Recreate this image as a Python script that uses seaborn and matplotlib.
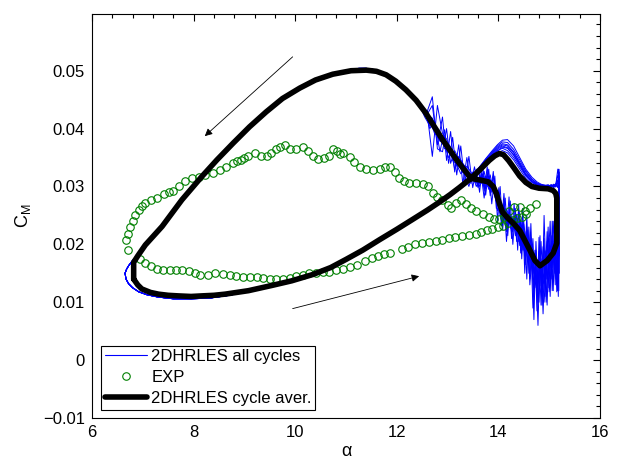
import matplotlib
matplotlib.use("Agg")
import matplotlib.pyplot as plt
import pandas as pd
import seaborn as sns
from matplotlib.lines import Line2D
from matplotlib.ticker import MultipleLocator

# ---------------- data ----------------
XTICKS = [6, 8, 10, 12, 14, 16]
XTICK_LABELS = ["6", "8", "10", "12", "14", "16"]
YTICKS = [-0.01, 0.0, 0.01, 0.02, 0.03, 0.04, 0.05]
YTICK_LABELS = ["\u22120.01", "0", "0.01", "0.02", "0.03", "0.04", "0.05"]
LEGEND_LABELS = ["2DHRLES all cycles", "EXP", "2DHRLES cycle aver."]

# blue cycles: shared attached upstroke
UP_A = [6.65, 6.67, 6.72, 6.80, 6.92, 7.08, 7.30, 7.60, 7.95, 8.30, 8.70, 9.10,
        9.50, 9.90, 10.30, 10.70, 11.10, 11.50, 11.90, 12.30, 12.70, 13.00, 13.25, 13.45]
UP_CM = [0.0150, 0.0140, 0.0132, 0.0125, 0.0118, 0.0113, 0.0109, 0.0106, 0.0106, 0.0107,
         0.0112, 0.0119, 0.0128, 0.0137, 0.0147, 0.0161, 0.0178, 0.0199, 0.0221, 0.0243,
         0.0265, 0.0283, 0.0299, 0.0313]

# per-cycle upstroke near moment peak
PEAK_A = [13.60, 13.75, 13.88, 13.98, 14.08, 14.18, 14.30, 14.42, 14.54, 14.66,
          14.76, 14.84, 14.92, 14.98, 15.04, 15.09, 15.13, 15.17, 15.20]
PEAK_CM = [
    [0.0327, 0.0342, 0.0354, 0.0362, 0.0366, 0.0362, 0.0350, 0.0334, 0.0318, 0.0307, 0.0302, 0.0301, 0.0300, 0.0301, 0.0299, 0.0302, 0.0300, 0.0310, 0.0305],
    [0.0328, 0.0345, 0.0358, 0.0368, 0.0374, 0.0372, 0.0360, 0.0342, 0.0325, 0.0312, 0.0305, 0.0303, 0.0302, 0.0300, 0.0303, 0.0300, 0.0304, 0.0298, 0.0315],
    [0.0325, 0.0338, 0.0350, 0.0358, 0.0362, 0.0358, 0.0346, 0.0330, 0.0314, 0.0304, 0.0300, 0.0301, 0.0299, 0.0300, 0.0302, 0.0299, 0.0303, 0.0320, 0.0300],
    [0.0330, 0.0348, 0.0362, 0.0372, 0.0380, 0.0381, 0.0370, 0.0350, 0.0330, 0.0316, 0.0308, 0.0304, 0.0302, 0.0303, 0.0300, 0.0304, 0.0301, 0.0306, 0.0312],
    [0.0326, 0.0340, 0.0353, 0.0361, 0.0368, 0.0366, 0.0355, 0.0338, 0.0320, 0.0309, 0.0303, 0.0302, 0.0301, 0.0299, 0.0303, 0.0301, 0.0305, 0.0299, 0.0325],
    [0.0329, 0.0344, 0.0357, 0.0366, 0.0372, 0.0370, 0.0358, 0.0340, 0.0322, 0.0310, 0.0304, 0.0302, 0.0300, 0.0302, 0.0300, 0.0303, 0.0299, 0.0312, 0.0302],
    [0.0327, 0.0341, 0.0355, 0.0364, 0.0370, 0.0367, 0.0354, 0.0337, 0.0320, 0.0308, 0.0303, 0.0301, 0.0302, 0.0300, 0.0301, 0.0298, 0.0302, 0.0330, 0.0308],
    [0.0331, 0.0347, 0.0360, 0.0370, 0.0377, 0.0376, 0.0364, 0.0346, 0.0327, 0.0313, 0.0306, 0.0303, 0.0301, 0.0302, 0.0300, 0.0302, 0.0300, 0.0305, 0.0318],
]

# per-cycle stalled downstroke (two alpha sample grids)
STALL_A1 = [15.20, 15.18, 15.15, 15.12, 15.08, 15.04, 15.00, 14.96, 14.92, 14.88, 14.84, 14.80,
            14.76, 14.72, 14.68, 14.64, 14.60, 14.56, 14.52, 14.48, 14.44, 14.40, 14.36, 14.31,
            14.26, 14.21, 14.16, 14.11, 14.06, 14.01, 13.96, 13.90, 13.84, 13.78, 13.72, 13.66,
            13.60, 13.53, 13.46, 13.38, 13.30, 13.22, 13.14, 13.06, 12.98, 12.90, 12.80, 12.70, 12.60]
STALL_A2 = [15.19, 15.165, 15.135, 15.10, 15.06, 15.02, 14.98, 14.94, 14.90, 14.86, 14.82, 14.78,
            14.74, 14.70, 14.66, 14.62, 14.58, 14.54, 14.50, 14.46, 14.42, 14.38, 14.335, 14.285,
            14.235, 14.185, 14.135, 14.085, 14.035, 13.985, 13.93, 13.87, 13.81, 13.75, 13.69, 13.63,
            13.565, 13.495, 13.42, 13.34, 13.26, 13.18, 13.10, 13.02, 12.94, 12.85, 12.75, 12.65, 12.55]
STALL_CM = [
    [0.0150, 0.0228, 0.0142, 0.0236, 0.0120, 0.0215, 0.0158, 0.0205, 0.0110, 0.0196, 0.0128, 0.0212, 0.0085, 0.0190, 0.0140, 0.0236, 0.0150, 0.0250, 0.0172, 0.0262, 0.0190, 0.0268, 0.0205, 0.0270, 0.0210, 0.0282, 0.0222, 0.0288, 0.0232, 0.0298, 0.0262, 0.0326, 0.0284, 0.0334, 0.0292, 0.0336, 0.0300, 0.0334, 0.0305, 0.0350, 0.0305, 0.0372, 0.0325, 0.0395, 0.0345, 0.0420, 0.0372, 0.0440, 0.0425],
    [0.0300, 0.0120, 0.0260, 0.0150, 0.0240, 0.0110, 0.0230, 0.0140, 0.0250, 0.0095, 0.0215, 0.0120, 0.0205, 0.0070, 0.0180, 0.0130, 0.0225, 0.0165, 0.0240, 0.0175, 0.0255, 0.0190, 0.0262, 0.0200, 0.0275, 0.0215, 0.0280, 0.0225, 0.0300, 0.0240, 0.0318, 0.0270, 0.0330, 0.0285, 0.0338, 0.0290, 0.0330, 0.0298, 0.0352, 0.0305, 0.0370, 0.0320, 0.0385, 0.0340, 0.0398, 0.0360, 0.0412, 0.0400, 0.0432],
    [0.0200, 0.0160, 0.0250, 0.0130, 0.0205, 0.0150, 0.0118, 0.0222, 0.0135, 0.0178, 0.0095, 0.0188, 0.0120, 0.0160, 0.0090, 0.0200, 0.0172, 0.0225, 0.0150, 0.0240, 0.0185, 0.0258, 0.0210, 0.0245, 0.0220, 0.0262, 0.0205, 0.0275, 0.0240, 0.0290, 0.0275, 0.0318, 0.0290, 0.0325, 0.0280, 0.0322, 0.0298, 0.0322, 0.0310, 0.0330, 0.0340, 0.0352, 0.0330, 0.0366, 0.0382, 0.0392, 0.0440, 0.0352, 0.0425],
    [0.0120, 0.0260, 0.0175, 0.0215, 0.0120, 0.0240, 0.0165, 0.0100, 0.0210, 0.0150, 0.0185, 0.0060, 0.0160, 0.0110, 0.0195, 0.0140, 0.0212, 0.0180, 0.0200, 0.0232, 0.0198, 0.0245, 0.0228, 0.0240, 0.0252, 0.0228, 0.0262, 0.0240, 0.0272, 0.0258, 0.0300, 0.0290, 0.0318, 0.0296, 0.0322, 0.0305, 0.0318, 0.0325, 0.0300, 0.0318, 0.0345, 0.0335, 0.0360, 0.0350, 0.0372, 0.0388, 0.0390, 0.0415, 0.0425],
    [0.0260, 0.0110, 0.0215, 0.0175, 0.0240, 0.0140, 0.0210, 0.0095, 0.0188, 0.0132, 0.0205, 0.0100, 0.0150, 0.0125, 0.0210, 0.0160, 0.0230, 0.0140, 0.0222, 0.0190, 0.0240, 0.0205, 0.0252, 0.0225, 0.0238, 0.0255, 0.0232, 0.0265, 0.0245, 0.0280, 0.0295, 0.0288, 0.0320, 0.0300, 0.0326, 0.0305, 0.0328, 0.0312, 0.0325, 0.0335, 0.0325, 0.0348, 0.0362, 0.0340, 0.0400, 0.0360, 0.0365, 0.0455, 0.0430],
    [0.0330, 0.0180, 0.0140, 0.0220, 0.0160, 0.0195, 0.0125, 0.0190, 0.0145, 0.0110, 0.0172, 0.0140, 0.0190, 0.0130, 0.0165, 0.0205, 0.0170, 0.0210, 0.0235, 0.0195, 0.0225, 0.0218, 0.0248, 0.0222, 0.0230, 0.0250, 0.0240, 0.0262, 0.0255, 0.0268, 0.0282, 0.0310, 0.0298, 0.0318, 0.0305, 0.0312, 0.0300, 0.0320, 0.0315, 0.0328, 0.0322, 0.0338, 0.0345, 0.0372, 0.0365, 0.0392, 0.0400, 0.0405, 0.0420],
    [0.0180, 0.0215, 0.0118, 0.0198, 0.0200, 0.0160, 0.0190, 0.0140, 0.0175, 0.0080, 0.0175, 0.0145, 0.0110, 0.0185, 0.0155, 0.0212, 0.0185, 0.0230, 0.0180, 0.0215, 0.0242, 0.0210, 0.0235, 0.0240, 0.0225, 0.0250, 0.0260, 0.0240, 0.0270, 0.0262, 0.0292, 0.0296, 0.0312, 0.0318, 0.0300, 0.0318, 0.0305, 0.0308, 0.0322, 0.0318, 0.0338, 0.0336, 0.0348, 0.0358, 0.0368, 0.0385, 0.0392, 0.0418, 0.0424],
    [0.0240, 0.0195, 0.0225, 0.0165, 0.0205, 0.0130, 0.0182, 0.0155, 0.0100, 0.0165, 0.0140, 0.0100, 0.0175, 0.0150, 0.0200, 0.0175, 0.0198, 0.0215, 0.0190, 0.0225, 0.0230, 0.0235, 0.0215, 0.0245, 0.0248, 0.0232, 0.0252, 0.0258, 0.0248, 0.0282, 0.0285, 0.0305, 0.0295, 0.0315, 0.0318, 0.0300, 0.0316, 0.0318, 0.0322, 0.0325, 0.0335, 0.0345, 0.0355, 0.0365, 0.0375, 0.0378, 0.0398, 0.0408, 0.0426],
]

# blue cycles: shared attached downstroke
DOWN_A = [12.45, 12.30, 12.15, 12.00, 11.85, 11.70, 11.55, 11.40, 11.25, 11.10, 10.90, 10.70,
          10.45, 10.20, 9.90, 9.60, 9.30, 9.00, 8.70, 8.40, 8.10, 7.80, 7.50, 7.25, 7.05,
          6.95, 6.85, 6.78, 6.72, 6.68]
DOWN_CM = [0.0440, 0.0455, 0.0469, 0.0480, 0.0490, 0.0497, 0.0502, 0.0504, 0.0504, 0.0501,
           0.0497, 0.0492, 0.0484, 0.0474, 0.0458, 0.0441, 0.0419, 0.0394, 0.0369, 0.0342,
           0.0313, 0.0281, 0.0246, 0.0219, 0.0198, 0.0188, 0.0177, 0.0170, 0.0163, 0.0157]

# experiment: lower branch (increasing alpha) then upper branch (decreasing alpha)
EXP_A = [6.70, 6.95, 7.05, 7.17, 7.28, 7.40, 7.53, 7.65, 7.78, 7.90, 8.02, 8.13, 8.28, 8.42,
         8.57, 8.71, 8.84, 8.98, 9.11, 9.24, 9.37, 9.50, 9.63, 9.76, 9.89, 10.02, 10.15, 10.27,
         10.40, 10.54, 10.67, 10.80, 10.95, 11.08, 11.22, 11.37, 11.52, 11.64, 11.75, 11.87,
         12.10, 12.23, 12.35, 12.49, 12.63, 12.77, 12.90, 13.03, 13.15, 13.28, 13.42, 13.55,
         13.66, 13.77, 13.88, 13.99, 14.09, 14.19, 14.28, 14.37, 14.46, 14.55,
         14.74, 14.62, 14.52, 14.42, 14.30, 14.20, 14.12, 14.02, 13.92, 13.82, 13.69, 13.56,
         13.46, 13.36, 13.26, 13.16, 13.07, 13.00, 12.90, 12.80, 12.71, 12.61, 12.51, 12.38,
         12.25, 12.15, 12.05, 11.96, 11.86, 11.76, 11.66, 11.53, 11.40, 11.27, 11.15, 11.07,
         10.95, 10.88, 10.82, 10.75, 10.66, 10.57, 10.45, 10.35, 10.25, 10.15, 10.02, 9.89,
         9.79, 9.70, 9.62, 9.53, 9.44, 9.33, 9.20, 9.08, 9.00, 8.93, 8.86, 8.77, 8.64, 8.51,
         8.38, 8.23, 8.10, 7.96, 7.83, 7.72, 7.60, 7.51, 7.41, 7.28, 7.16, 7.05, 6.98, 6.92,
         6.85, 6.80, 6.75, 6.71, 6.67]
EXP_CM = [0.0190, 0.0174, 0.0168, 0.0162, 0.0158, 0.0156, 0.0155, 0.0155, 0.0155, 0.0154,
          0.0150, 0.0147, 0.0147, 0.0150, 0.0149, 0.0147, 0.0146, 0.0144, 0.0143, 0.0143,
          0.0142, 0.0141, 0.0141, 0.0141, 0.0142, 0.0145, 0.0147, 0.0150, 0.0151, 0.0152,
          0.0153, 0.0156, 0.0158, 0.0161, 0.0165, 0.0171, 0.0176, 0.0180, 0.0183, 0.0185,
          0.0192, 0.0196, 0.0200, 0.0202, 0.0204, 0.0206, 0.0208, 0.0211, 0.0213, 0.0215,
          0.0216, 0.0218, 0.0222, 0.0225, 0.0227, 0.0230, 0.0232, 0.0237, 0.0242, 0.0245,
          0.0248, 0.0252,
          0.0270, 0.0262, 0.0257, 0.0264, 0.0265, 0.0258, 0.0247, 0.0243, 0.0243, 0.0247,
          0.0252, 0.0257, 0.0262, 0.0269, 0.0277, 0.0271, 0.0262, 0.0268, 0.0276, 0.0282,
          0.0289, 0.0300, 0.0305, 0.0306, 0.0306, 0.0309, 0.0315, 0.0325, 0.0334, 0.0334,
          0.0330, 0.0328, 0.0330, 0.0334, 0.0342, 0.0351, 0.0358, 0.0356, 0.0362, 0.0364,
          0.0353, 0.0349, 0.0347, 0.0352, 0.0361, 0.0368, 0.0364, 0.0364, 0.0372, 0.0369,
          0.0365, 0.0358, 0.0352, 0.0353, 0.0357, 0.0352, 0.0349, 0.0346, 0.0344, 0.0340,
          0.0334, 0.0329, 0.0324, 0.0320, 0.0317, 0.0314, 0.0309, 0.0301, 0.0292, 0.0290,
          0.0287, 0.0280, 0.0276, 0.0272, 0.0267, 0.0260, 0.0251, 0.0241, 0.0230, 0.0218,
          0.0207]

# cycle-averaged curve
BLACK_A = [6.82, 6.90, 6.98, 7.15, 7.31, 7.50, 7.70, 7.95, 8.16, 8.40, 8.62, 9.08, 9.54, 9.93,
           10.35, 10.70, 11.00, 11.33, 11.66, 12.00, 12.31, 12.60, 12.84, 13.05, 13.23, 13.46,
           13.65, 13.82, 13.93, 14.02, 14.10, 14.20, 14.30, 14.42, 14.54, 14.66, 14.80, 14.98,
           15.08, 15.13, 15.15, 15.15, 15.08, 14.96, 14.82, 14.72, 14.62, 14.52, 14.42, 14.30,
           14.18, 14.08, 14.02, 13.96, 13.90, 13.80, 13.65, 13.46, 13.30, 13.17, 12.90, 12.57,
           12.38, 12.18, 11.98, 11.79, 11.60, 11.40, 11.10, 10.74, 10.40, 10.09, 9.75, 9.43,
           9.10, 8.78, 8.46, 8.16, 7.77, 7.38, 7.05, 6.90, 6.82, 6.82]
BLACK_CM = [0.0140, 0.0130, 0.0123, 0.0117, 0.0114, 0.0112, 0.0111, 0.0110, 0.0111, 0.0112,
            0.0114, 0.0120, 0.0129, 0.0137, 0.0148, 0.0160, 0.0174, 0.0190, 0.0208, 0.0226,
            0.0243, 0.0259, 0.0273, 0.0286, 0.0298, 0.0314, 0.0330, 0.0345, 0.0353, 0.0357,
            0.0355, 0.0345, 0.0333, 0.0318, 0.0307, 0.0300, 0.0297, 0.0296, 0.0293, 0.0288,
            0.0280, 0.0202, 0.0185, 0.0172, 0.0163, 0.0172, 0.0190, 0.0207, 0.0224, 0.0236,
            0.0246, 0.0256, 0.0271, 0.0288, 0.0300, 0.0308, 0.0311, 0.0314, 0.0332, 0.0347,
            0.0381, 0.0427, 0.0449, 0.0467, 0.0482, 0.0493, 0.0499, 0.0501, 0.0500, 0.0494,
            0.0484, 0.0470, 0.0452, 0.0429, 0.0403, 0.0375, 0.0346, 0.0317, 0.0277, 0.0231,
            0.0199, 0.0180, 0.0169, 0.0140]

# arrows (tail, head) in data units
ARROWS = [((9.95, 0.0524), (8.22, 0.0387)), ((9.95, 0.0089), (12.44, 0.0145))]

# ---------------- assemble ----------------
rows = []
for i in range(len(PEAK_CM)):
    grid = STALL_A1 if i % 2 == 0 else STALL_A2
    a = UP_A + PEAK_A + grid + DOWN_A + [UP_A[0]]
    c = UP_CM + PEAK_CM[i] + STALL_CM[i] + DOWN_CM + [UP_CM[0]]
    for k, (x, y) in enumerate(zip(a, c)):
        rows.append({"alpha": x, "cm": y, "cycle": i, "order": k})
blue = pd.DataFrame(rows)
exp_df = pd.DataFrame({"alpha": EXP_A, "cm": EXP_CM})
avg_df = pd.DataFrame({"alpha": BLACK_A, "cm": BLACK_CM})

sns.set_theme(style="white")
plt.rcParams["font.family"] = ["Liberation Sans", "DejaVu Sans"]
plt.rcParams["mathtext.default"] = "regular"

fig = plt.figure(figsize=(6.23, 4.59), dpi=100)
ax = fig.add_axes([0.1477, 0.0893, 0.8153, 0.8802])

BLUE = "#0000ff"
GREEN = "#008000"
BLACK = "#000000"

sns.lineplot(data=blue, x="alpha", y="cm", units="cycle", estimator=None, sort=False,
             color=BLUE, lw=0.7, ax=ax, legend=False, zorder=2)
sns.lineplot(data=exp_df, x="alpha", y="cm", estimator=None, sort=False, ax=ax,
             linestyle="", marker="o", markersize=5.4, markerfacecolor="none",
             mec=GREEN, mew=0.8, color=GREEN, legend=False, zorder=3)
sns.lineplot(data=avg_df, x="alpha", y="cm", estimator=None, sort=False, ax=ax,
             color=BLACK, lw=4, legend=False, zorder=4, solid_joinstyle="round")

for tail, head in ARROWS:
    ax.annotate("", xy=head, xytext=tail,
                arrowprops=dict(arrowstyle="-|>", color=BLACK, lw=0.6,
                                mutation_scale=11, shrinkA=0, shrinkB=0), zorder=5)

ax.set_xlim(6, 16)
ax.set_ylim(-0.01, 0.0598)
ax.set_xticks(XTICKS)
ax.set_xticklabels(XTICK_LABELS)
ax.set_yticks(YTICKS)
ax.set_yticklabels(YTICK_LABELS)
ax.xaxis.set_minor_locator(MultipleLocator(0.4))
ax.yaxis.set_minor_locator(MultipleLocator(0.002))
ax.tick_params(which="both", direction="in", top=True, right=True, color=BLACK,
               width=0.8, labelsize=12, labelcolor=BLACK)
ax.tick_params(which="major", length=5, pad=5)
ax.tick_params(which="minor", length=3)
for s in ax.spines.values():
    s.set_color(BLACK)
    s.set_linewidth(0.8)

ax.set_xlabel("\u03b1", fontsize=13, labelpad=2, color=BLACK)
ax.set_ylabel("$C_M$", fontsize=13, labelpad=7, color=BLACK)

handles = [
    Line2D([], [], color=BLUE, lw=0.8),
    Line2D([], [], ls="", marker="o", markersize=5.4, markerfacecolor="none",
           markeredgecolor=GREEN, markeredgewidth=0.8),
    Line2D([], [], color=BLACK, lw=4),
]
leg = ax.legend(handles, LEGEND_LABELS, loc="lower left", bbox_to_anchor=(0.0177, 0.02),
                borderaxespad=0, fancybox=False, edgecolor=BLACK, framealpha=1,
                fontsize=12, handlelength=2.55, handletextpad=0.25, labelspacing=0.36,
                borderpad=0.22, numpoints=1)
leg.get_frame().set_linewidth(0.8)
for t in leg.get_texts():
    t.set_color(BLACK)

fig.savefig("out.png", dpi=100)
